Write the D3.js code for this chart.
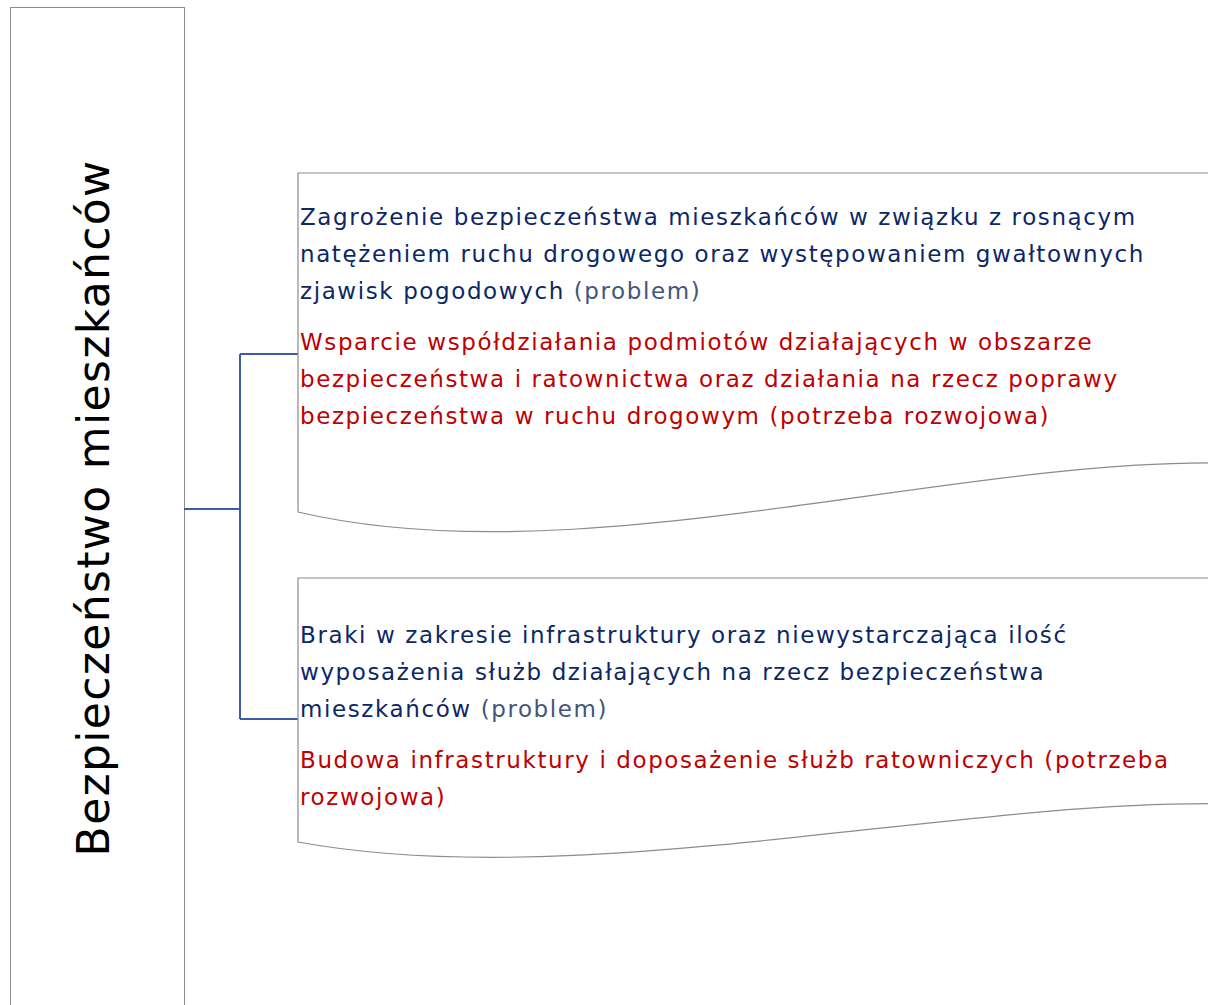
<meta charset="utf-8">
<head>
    <script type="text/javascript" src="https://cdn.jsdelivr.net/npm/d3@7/dist/d3.min.js"></script>
    <style>
        body { margin: 0; background: #ffffff; }
        svg { display: block; }
    </style>
</head>
<body>
    <svg width=1208 height=1005></svg>
</body>
<script>
    let title = "Bezpieczeństwo mieszkańców";
    // lines of each block as they wrap in the picture
    let problems = [
        ["Zagrożenie bezpieczeństwa mieszkańców w związku z rosnącym",
         "natężeniem ruchu drogowego oraz występowaniem gwałtownych",
         "zjawisk pogodowych"],
        ["Braki w zakresie infrastruktury oraz niewystarczająca ilość",
         "wyposażenia służb działających na rzecz bezpieczeństwa",
         "mieszkańców"]
    ];
    let needs = [
        ["Wsparcie współdziałania podmiotów działających w obszarze",
         "bezpieczeństwa i ratownictwa oraz działania na rzecz poprawy",
         "bezpieczeństwa w ruchu drogowym (potrzeba rozwojowa)"],
        ["Budowa infrastruktury i doposażenie służb ratowniczych (potrzeba",
         "rozwojowa)"]
    ];
    let problemTag = " (problem)";

    let fontFamily = "DejaVu Sans, Verdana, sans-serif";
    let fontSize = 23;
    let lineH = 37;

    let svg = d3.select('svg');

    // box tops and heights (left edge) of the document shapes
    let boxTop = [173, 578];
    let boxH = [339, 264];
    let textTop = [217, 635];
    let boxX = 298, boxW = 910;

    // title box
    svg.append("rect")
        .attr("x", 10.5).attr("y", 7.5)
        .attr("width", 174).attr("height", 1010)
        .attr("fill", "none")
        .attr("stroke", "#8c8c8c")
        .attr("stroke-width", 1);

    svg.append("text")
        .attr("transform", "translate(109, 508) rotate(-90)")
        .attr("text-anchor", "middle")
        .attr("font-family", fontFamily)
        .attr("font-size", 44)
        .attr("letter-spacing", 1.35)
        .attr("fill", "#000000")
        .text(title);

    // connector
    let joinY = [354, 719];
    let conn = svg.append("g")
        .attr("fill", "none")
        .attr("stroke", "#3b5ca8")
        .attr("stroke-width", 2);
    conn.append("line").attr("x1", 184).attr("x2", 240).attr("y1", 509).attr("y2", 509);
    conn.append("line").attr("x1", 240).attr("x2", 240).attr("y1", joinY[0]).attr("y2", joinY[1]);
    joinY.forEach(y => {
        conn.append("line").attr("x1", 240).attr("x2", boxX).attr("y1", y).attr("y2", y);
    });

    // document shapes (right side runs off the page)
    function docPath(top, h) {
        let p = d3.path();
        let b = top + h;
        p.moveTo(boxX + boxW + 2, top);
        p.lineTo(boxX, top);
        p.lineTo(boxX, b);
        p.bezierCurveTo(boxX + boxW * 0.3, b + 0.19 * h,
                        boxX + boxW * 0.7, b - 0.145 * h,
                        boxX + boxW, b - 0.145 * h);
        p.lineTo(boxX + boxW + 2, b - 0.145 * h);
        return p.toString();
    }

    boxTop.forEach((top, i) => {
        svg.append("path")
            .attr("d", docPath(top, boxH[i]))
            .attr("fill", "#ffffff")
            .attr("stroke", "#8c8c8c")
            .attr("stroke-width", 1.2);
    });

    // texts
    problems.forEach((lines, i) => {
        let t = svg.append("text")
            .attr("font-family", fontFamily)
            .attr("font-size", fontSize)
            .attr("letter-spacing", 1.6)
            .attr("fill", "#0c2766");
        lines.forEach((line, j) => {
            t.append("tspan")
                .attr("x", boxX + 2)
                .attr("y", textTop[i] + j * lineH + 8)
                .text(line);
            if (j == lines.length - 1) {
                t.append("tspan").attr("fill", "#42557a").text(problemTag);
            }
        });

        let start = textTop[i] + lines.length * lineH + 14;
        let r = svg.append("text")
            .attr("font-family", fontFamily)
            .attr("font-size", fontSize)
            .attr("letter-spacing", 1.6)
            .attr("fill", "#c00000");
        needs[i].forEach((line, j) => {
            r.append("tspan")
                .attr("x", boxX + 2)
                .attr("y", start + j * lineH + 8)
                .text(line);
        });
    });
</script>
